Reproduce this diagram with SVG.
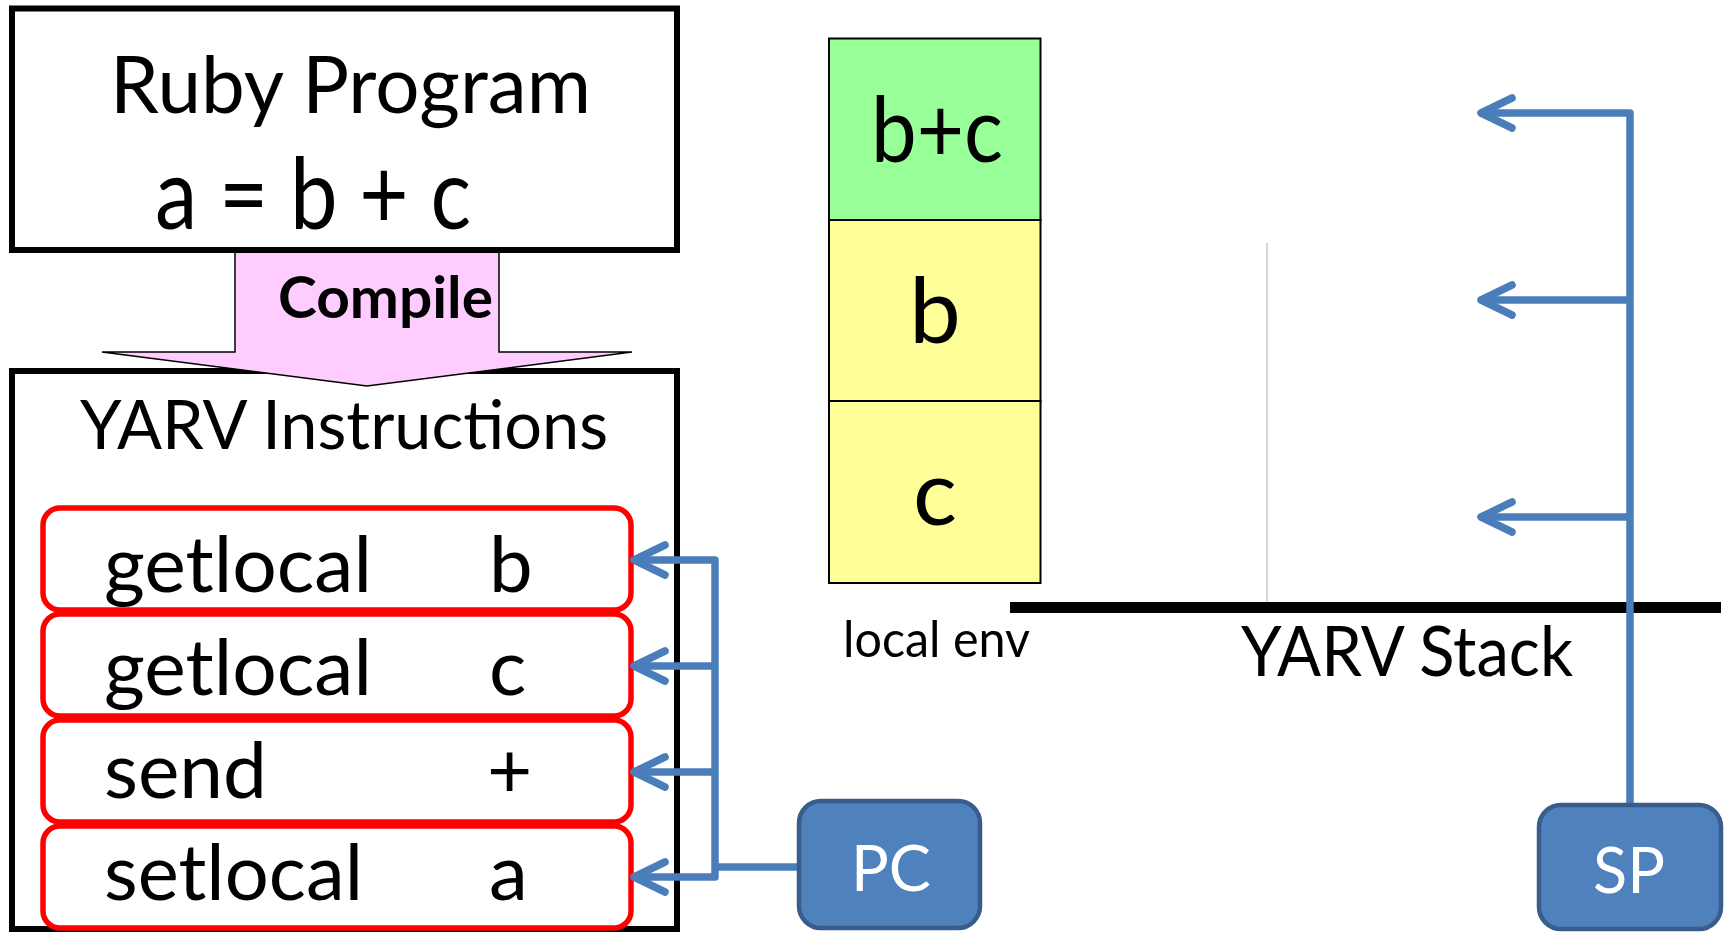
<svg xmlns="http://www.w3.org/2000/svg" width="1727" height="932" viewBox="0 0 1727 932">
<defs>
<style>
.t{font-family:Lato,"Open Sans","Liberation Sans",sans-serif;fill:#000}
.box{fill:#fff;stroke:#000;stroke-width:6}
.ins{fill:#fff;stroke:#ff0000;stroke-width:5.5}
.cell{stroke:#000;stroke-width:2}
.reg{fill:#4f81bd;stroke:#385d8a;stroke-width:4.5}
.con{fill:none;stroke:#4a7ebb;stroke-width:7.5;stroke-linecap:round;stroke-linejoin:round}
.w{font-family:Lato,"Open Sans","Liberation Sans",sans-serif;fill:#fff}
</style>
</defs>
<rect width="1727" height="932" fill="#fff"/>

<g id="yarv-instructions">
<rect class="box" x="12" y="371" width="665" height="558"/>
<text class="t" x="80" y="449" font-size="68" textLength="528" lengthAdjust="spacingAndGlyphs">YARV Instructions</text>
</g>

<g id="compile-arrow">
<polygon points="235,252 499,252 499,352 632,352 367,386 102,352 235,352" fill="#ffccff" stroke="#000" stroke-width="1.5" stroke-linejoin="miter"/>
<text class="t" x="278" y="318" font-size="58" font-weight="bold" textLength="215" lengthAdjust="spacingAndGlyphs">Compile</text>
</g>

<g id="ruby-program">
<rect class="box" x="12" y="8.5" width="665" height="241.5"/>
<text class="t" x="110" y="113" font-size="79" textLength="481" lengthAdjust="spacingAndGlyphs">Ruby Program</text>
<text class="t" x="155" y="229" font-size="99" textLength="316" lengthAdjust="spacingAndGlyphs">a = b + c</text>
</g>

<g id="ins-getlocal-b">
<rect class="ins" x="43" y="508" width="588" height="102" rx="17"/>
<text class="t" x="104" y="592" font-size="78" textLength="268" lengthAdjust="spacingAndGlyphs">getlocal</text>
<text class="t" x="489" y="592" font-size="78">b</text>
</g>
<g id="ins-getlocal-c">
<rect class="ins" x="43" y="614" width="588" height="102" rx="17"/>
<text class="t" x="104" y="695" font-size="78" textLength="268" lengthAdjust="spacingAndGlyphs">getlocal</text>
<text class="t" x="489" y="695" font-size="78">c</text>
</g>
<g id="ins-send">
<rect class="ins" x="43" y="720" width="588" height="102" rx="17"/>
<text class="t" x="104" y="798" font-size="78" textLength="163" lengthAdjust="spacingAndGlyphs">send</text>
<text class="t" x="487" y="798" font-size="78">+</text>
</g>
<g id="ins-setlocal-a">
<rect class="ins" x="43" y="826" width="588" height="102" rx="17"/>
<text class="t" x="104" y="900" font-size="78" textLength="259" lengthAdjust="spacingAndGlyphs">setlocal</text>
<text class="t" x="489" y="900" font-size="78">a</text>
</g>

<g id="local-env">
<rect class="cell" x="829" y="38.5" width="211.5" height="181.5" fill="#99ff99"/>
<rect class="cell" x="829" y="220" width="211.5" height="181" fill="#ffff99"/>
<rect class="cell" x="829" y="401" width="211.5" height="182" fill="#ffff99"/>
<text class="t" x="871" y="162" font-size="92" textLength="132" lengthAdjust="spacingAndGlyphs">b+c</text>
<text class="t" x="935" y="343" font-size="92" text-anchor="middle">b</text>
<text class="t" x="935" y="525" font-size="92" text-anchor="middle">c</text>
<text class="t" x="843" y="657" font-size="50" textLength="187" lengthAdjust="spacingAndGlyphs">local env</text>
</g>

<g id="yarv-stack">
<line x1="1267" y1="243" x2="1267" y2="602" stroke="#bbbbbb" stroke-width="1.2"/>
<rect x="1010" y="602" width="711" height="11" fill="#000"/>
<text class="t" x="1241" y="676" font-size="69" textLength="332" lengthAdjust="spacingAndGlyphs">YARV Stack</text>
</g>

<g id="connectors">
<path class="con" d="M636,560 H715 V877 H636 M715,666 H636 M715,772 H636 M800,867 H715"/>
<path class="con" d="M665,545 L634,560 L665,575 M665,651 L634,666 L665,681 M665,757 L634,772 L665,787 M665,862 L634,877 L665,892"/>
<path class="con" d="M1482,113 H1630 V805 M1630,300 H1482 M1630,517 H1482"/>
<path class="con" d="M1512,98 L1481,113 L1512,128 M1512,285 L1481,300 L1512,315 M1512,502 L1481,517 L1512,532"/>
</g>

<g id="pc">
<rect class="reg" x="799" y="801" width="181" height="127" rx="22"/>
<text class="w" x="891" y="891" font-size="63" text-anchor="middle">PC</text>
</g>
<g id="sp">
<rect class="reg" x="1539" y="805" width="182" height="124" rx="22"/>
<text class="w" x="1629" y="893" font-size="63" text-anchor="middle">SP</text>
</g>
</svg>
